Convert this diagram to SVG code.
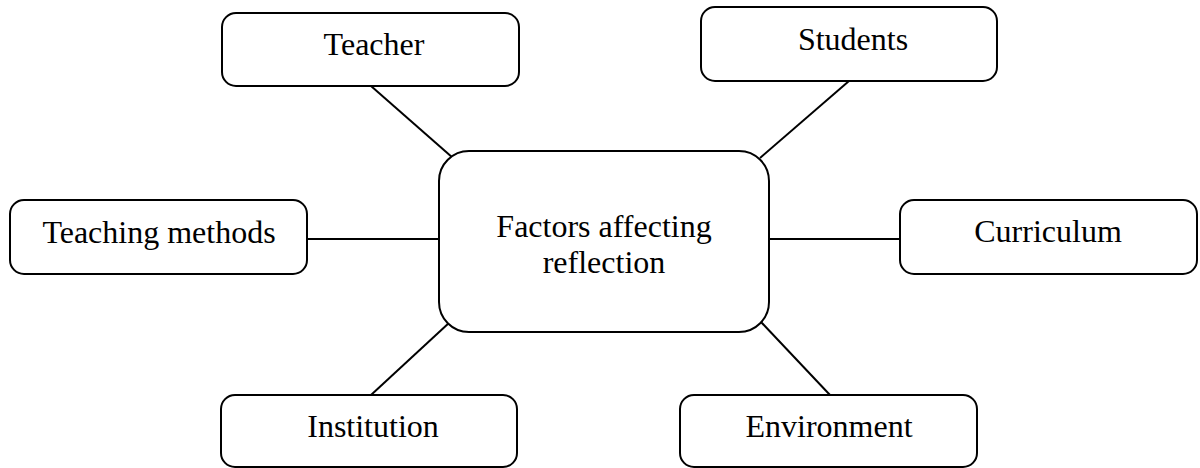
<svg xmlns="http://www.w3.org/2000/svg" width="1200" height="468" viewBox="0 0 1200 468">
  <style>
    .box { fill: #ffffff; stroke: #000000; stroke-width: 2; }
    .link { stroke: #000000; stroke-width: 2; fill: none; }
    .label { font-family: "Liberation Serif", "Times New Roman", serif; font-size: 32px; fill: #000000; text-anchor: middle; }
  </style>
  <rect width="1200" height="468" fill="#ffffff"/>

  <!-- spokes from the hub to each factor -->
  <g id="connectors">
    <line class="link" x1="371" y1="86" x2="453" y2="158"/>
    <line class="link" x1="849" y1="81" x2="760" y2="158"/>
    <line class="link" x1="307" y1="239" x2="439" y2="239"/>
    <line class="link" x1="769" y1="239" x2="900" y2="239"/>
    <line class="link" x1="371" y1="395" x2="450" y2="322"/>
    <line class="link" x1="830" y1="395" x2="761" y2="322"/>
  </g>

  <g id="hub">
    <rect class="box" x="439" y="151" width="330" height="181" rx="30" ry="30"/>
    <text class="label" x="604" y="237">Factors affecting</text>
    <text class="label" x="604" y="273">reflection</text>
  </g>

  <g id="teacher">
    <rect class="box" x="222" y="13" width="297" height="73" rx="14" ry="14"/>
    <text class="label" x="374" y="55">Teacher</text>
  </g>

  <g id="students">
    <rect class="box" x="701" y="7" width="296" height="74" rx="14" ry="14"/>
    <text class="label" x="853" y="50">Students</text>
  </g>

  <g id="teaching-methods">
    <rect class="box" x="10" y="200" width="297" height="74" rx="14" ry="14"/>
    <text class="label" x="159" y="243">Teaching methods</text>
  </g>

  <g id="curriculum">
    <rect class="box" x="900" y="200" width="297" height="74" rx="14" ry="14"/>
    <text class="label" x="1048" y="242">Curriculum</text>
  </g>

  <g id="institution">
    <rect class="box" x="221" y="395" width="296" height="72" rx="14" ry="14"/>
    <text class="label" x="373" y="437">Institution</text>
  </g>

  <g id="environment">
    <rect class="box" x="680" y="395" width="297" height="72" rx="14" ry="14"/>
    <text class="label" x="829" y="437">Environment</text>
  </g>
</svg>
